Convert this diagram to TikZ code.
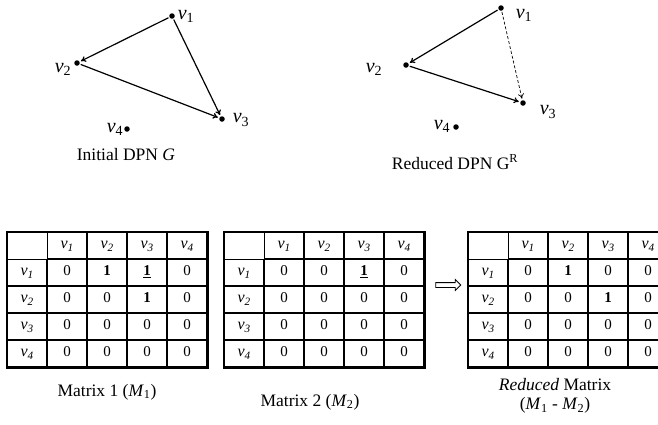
\documentclass[tikz,border=0pt]{standalone}
\usepackage{fontspec}
\setmainfont{Liberation Serif}
\usetikzlibrary{arrows.meta,matrix,shapes.arrows}
% vertex names: graph label and table header
\newcommand{\gv}[1]{\textit{v}\textsubscript{#1}}
\newcommand{\hv}[1]{{\fontsize{16}{17}\selectfont\textit{v\textsubscript{#1}}}}
\newcommand{\bone}{\textbf{1}}
\newcommand{\uone}{\underline{\textbf{1}}}
\tikzset{
  vert/.style={circle, fill=black, inner sep=0pt, minimum size=5.5pt},
  vlabel/.style={font=\fontsize{20}{21}\selectfont, inner sep=0pt},
  edge/.style={-{To[length=5pt,width=6pt]}, line width=1.2pt, shorten >=1.5pt, shorten <=1pt},
  dedge/.style={edge, dashed, line width=0.7pt, dash pattern=on 3pt off 2pt},
  adj/.style={matrix of nodes, inner sep=0pt, column sep=0pt, row sep=0pt, anchor=north west,
    nodes={draw, line width=0.8pt, outer sep=0pt, inner sep=0pt, anchor=center, minimum width=39.2pt, minimum height=26.2pt,
      text height=10pt, text depth=4pt, font=\fontsize{15}{16}\selectfont}},
  frame/.style={line width=2.4pt},
  caption/.style={font=\fontsize{17.5}{19}\selectfont, align=center, inner sep=0pt},
  implies/.style={single arrow, draw, line width=0.8pt, inner sep=2pt, minimum height=25pt, single arrow head extend=3pt}
}
\begin{document}
\begin{tikzpicture}[x=1pt, y=-1pt]
\useasboundingbox (0,0) rectangle (658,424);
% initial DPN
\node[vert] (a1) at (172,16) {};
\node[vert] (a2) at (77,63) {};
\node[vert] (a3) at (222,119) {};
\node[vert] (a4) at (127,129) {};
\node[vlabel] (la1) at (186,16) {\gv{1}};
\node[vlabel] (la2) at (63,69) {\gv{2}};
\node[vlabel] (la3) at (241,120) {\gv{3}};
\node[vlabel] (la4) at (115,129) {\gv{4}};
\foreach \a/\b in {a1/a2,a2/a3,a1/a3} \draw[edge] (\a) -- (\b);
\node[caption] (capg) at (126,155) {Initial DPN \textit{G}};
% reduced DPN
\node[vert] (b1) at (501,8) {};
\node[vert] (b2) at (406,65) {};
\node[vert] (b3) at (523,103) {};
\node[vert] (b4) at (456,127) {};
\node[vlabel] (lb1) at (524,15) {\gv{1}};
\node[vlabel] (lb2) at (374,69) {\gv{2}};
\node[vlabel] (lb3) at (548,112) {\gv{3}};
\node[vlabel] (lb4) at (442,126) {\gv{4}};
\foreach \a/\b in {b1/b2,b2/b3} \draw[edge] (\a) -- (\b);
\draw[dedge] (b1) -- (b3);
\node[caption] (capr) at (455,162) {Reduced DPN G\textsuperscript{R}};
% matrices
\matrix[adj] (m1) at (7,232) {
       & \hv{1} & \hv{2} & \hv{3} & \hv{4} \\
\hv{1} & 0 & \bone & \uone & 0 \\
\hv{2} & 0 & 0 & \bone & 0 \\
\hv{3} & 0 & 0 & 0 & 0 \\
\hv{4} & 0 & 0 & 0 & 0 \\
};
\matrix[adj] (m2) at (224,232) {
       & \hv{1} & \hv{2} & \hv{3} & \hv{4} \\
\hv{1} & 0 & 0 & \uone & 0 \\
\hv{2} & 0 & 0 & 0 & 0 \\
\hv{3} & 0 & 0 & 0 & 0 \\
\hv{4} & 0 & 0 & 0 & 0 \\
};
\matrix[adj] (mr) at (468,232) {
       & \hv{1} & \hv{2} & \hv{3} & \hv{4} \\
\hv{1} & 0 & \bone & 0 & 0 \\
\hv{2} & 0 & 0 & \bone & 0 \\
\hv{3} & 0 & 0 & 0 & 0 \\
\hv{4} & 0 & 0 & 0 & 0 \\
};
\foreach \m in {m1,m2,mr} \draw[frame] (\m.north west) rectangle (\m.south east);
\draw[line width=1.6pt] (m1-1-2.north west) -- (m1-5-2.south west);
\node[implies] (imp) at (447,285) {};
\node[caption] (cap1) at (107,392) {Matrix 1 (\textit{M}\textsubscript{1})};
\node[caption] (cap2) at (310,402) {Matrix 2 (\textit{M}\textsubscript{2})};
\node[caption] (capm) at (555,396) {\textit{Reduced} Matrix\\(\textit{M}\textsubscript{1} - \textit{M}\textsubscript{2})};
\end{tikzpicture}
\end{document}
